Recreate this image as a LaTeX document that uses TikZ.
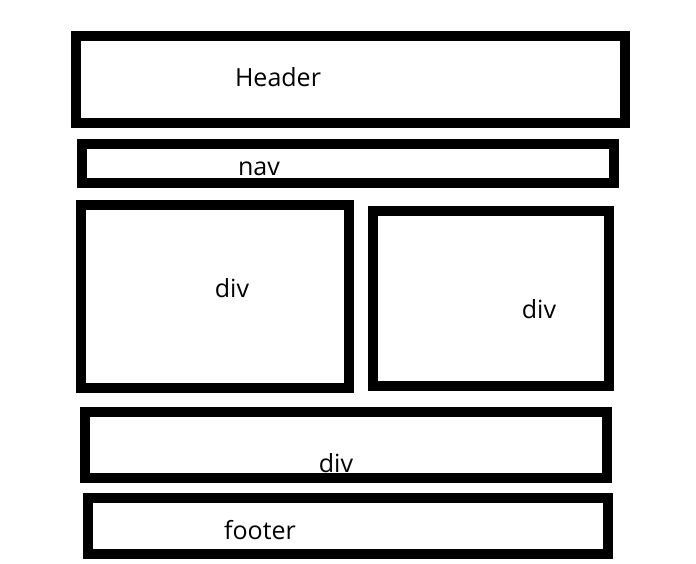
\documentclass[tikz,border=0pt]{standalone}
\usepackage{fontspec}
\setmainfont{Open Sans}
\usepackage{tikz}

\tikzset{
  block/.style = {draw = black, line width = 10pt},
  label/.style = {anchor = base, inner sep = 0pt, font = \fontsize{25}{29}\selectfont}
}

\begin{document}
\begin{tikzpicture}[x = 1pt, y = -1pt]
  \useasboundingbox (0, 0) rectangle (696, 564);

  \draw[block] (76, 36) rectangle (625, 123);
  \draw[block] (82, 144) rectangle (614, 183);

  \draw[block] (81, 205) rectangle (349, 388);
  \draw[block] (373, 211) rectangle (609, 386);

  \draw[block] (85, 412) rectangle (607, 478);
  \draw[block] (88, 498) rectangle (608, 554);

  \node[label] (header) at (278, 87) {Header};
  \node[label] (nav) at (259, 176) {nav};
  \node[label] (divleft) at (232, 297) {div};
  \node[label] (divright) at (539, 318) {div};
  \node[label] (divwide) at (336, 472) {div};
  \node[label] (footer) at (260, 539) {footer};
\end{tikzpicture}
\end{document}
